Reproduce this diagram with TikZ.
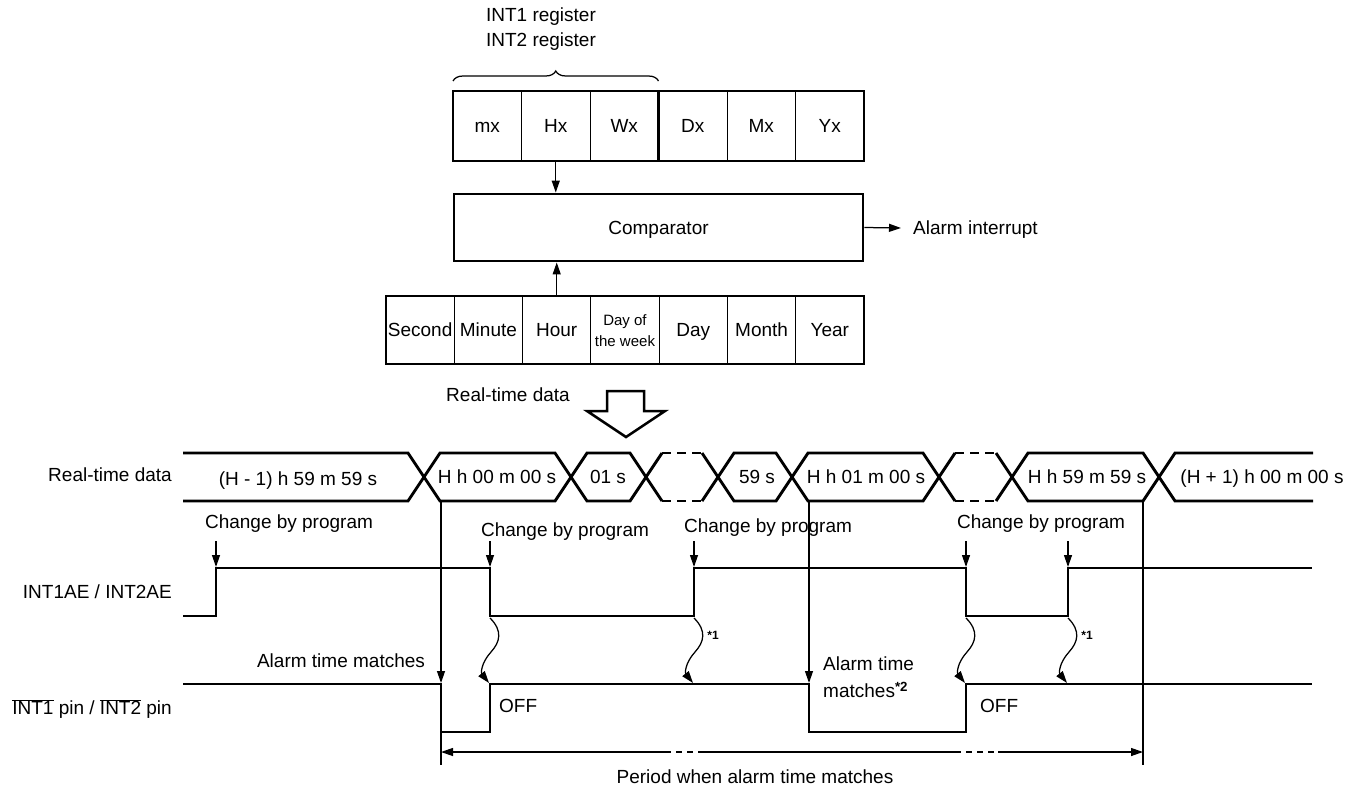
\documentclass[tikz,border=0pt]{standalone}
\usepackage{fontspec}
\setmainfont{Liberation Sans}
\usetikzlibrary{arrows.meta,decorations.pathreplacing}
\begin{document}
\begin{tikzpicture}[x=1pt,y=-1pt,
  thickl/.style={line width=2.9pt},
  thinl/.style={line width=1.25pt},
  tip/.style={-{Triangle[length=12pt,width=8pt]}},
  lbl/.style={font=\fontsize{19}{23}\selectfont, inner sep=0pt},
  one/.style={lbl, text height=13.7pt, text depth=0pt},
  small/.style={font=\fontsize{15}{21}\selectfont, inner sep=0pt, align=center},
  star/.style={font=\fontsize{12}{14}\selectfont\bfseries, inner sep=0pt},
  cellr/.style={one, minimum width=68.5pt, minimum height=70pt},
  cellt/.style={one, minimum width=68.286pt, minimum height=68pt},
  boxx/.style={draw, thickl, inner sep=0pt},
  sig/.style={thickl, line join=miter},
  busdash/.style={thickl, dash pattern=on 9pt off 6pt}
]
\useasboundingbox (0,0) rectangle (1361,787);

% ---------- register block ----------
\node[lbl, align=center, font=\fontsize{19}{25}\selectfont] (regtxt) at (541,29.5) {INT1 register\\INT2 register};
\draw[thinl, decorate, decoration={brace, amplitude=10pt}] (453,81) -- (658.5,81);
\foreach \t [count=\i] in {mx,Hx,Wx,Dx,Mx,Yx}
  \node[cellr] (r\i) at ({453+68.5*(\i-0.5)},126) {\t};
\foreach \i in {1,2,4,5}
  \draw[thinl] (r\i.north east) -- (r\i.south east);
\draw[thickl] (r3.north east) -- (r3.south east);
\node[boxx, minimum width=411pt, minimum height=70pt] (reg) at (658.5,126) {};

% ---------- comparator ----------
\node[boxx, one, draw, line width=2.9pt, minimum width=409pt, minimum height=67pt] (comp) at (658.5,227.5) {Comparator};
\draw[thinl, tip] (r2.south) -- (r2.south |- comp.north);
\node[one, anchor=west] (ai) at (913,228) {Alarm interrupt};
\draw[thinl, tip] (comp.east) -- ([xshift=-12pt]ai.west);

% ---------- real-time block ----------
\node[cellt] (t1) at ({386+68.286*0.5},330) {Second};
\node[cellt] (t2) at ({386+68.286*1.5},330) {Minute};
\node[cellt] (t3) at ({386+68.286*2.5},330) {Hour};
\node[small, minimum width=68.286pt, minimum height=68pt] (t4) at ({386+68.286*3.5},331) {Day of\\the week};
\node[cellt] (t5) at ({386+68.286*4.5},330) {Day};
\node[cellt] (t6) at ({386+68.286*5.5},330) {Month};
\node[cellt] (t7) at ({386+68.286*6.5},330) {Year};
\foreach \i in {1,...,6}
  \draw[thinl] ({386+68.286*\i},296) -- ({386+68.286*\i},364);
\node[boxx, minimum width=478pt, minimum height=68pt] (rt) at (625,330) {};
\draw[thinl, tip] (t3.north) -- (t3.north |- comp.south);

% hollow arrow
\node[one] (rtd) at (508,395) {Real-time data};
\draw[line width=2.5pt, line join=miter] (607,391) -- (644,391) -- (644,411) -- (665,411)
  -- (626,437) -- (587,411) -- (607,411) -- cycle;

% ---------- left labels ----------
\node[one, anchor=east] (l1) at (172,475) {Real-time data};
\node[one, anchor=east] (l2) at (172,592) {INT1AE / INT2AE};
\node[one, anchor=east] (l3) at (172,708) {$\overline{\mbox{INT1}}$ pin / $\overline{\mbox{INT2}}$ pin};

% ---------- data bus ----------
\def\T{453}\def\B{501}
\draw[sig] (183,\T) -- (408,\T) -- (440,\B) -- (555,\B) -- (587,\T) -- (630,\T) -- (662,\B);
\draw[sig] (183,\B) -- (408,\B) -- (440,\T) -- (555,\T) -- (587,\B) -- (630,\B) -- (662,\T);
\draw[busdash] (662,\T) -- (702,\T);
\draw[busdash] (662,\B) -- (702,\B);
\draw[sig] (702,\B) -- (734,\T) -- (776,\T) -- (808,\B) -- (923,\B) -- (955,\T);
\draw[sig] (702,\T) -- (734,\B) -- (776,\B) -- (808,\T) -- (923,\T) -- (955,\B);
\draw[busdash] (955,\T) -- (996,\T);
\draw[busdash] (955,\B) -- (996,\B);
\draw[sig] (996,\T) -- (1028,\B) -- (1143,\B) -- (1175,\T) -- (1313,\T);
\draw[sig] (996,\B) -- (1028,\T) -- (1143,\T) -- (1175,\B) -- (1313,\B);

\node[one] (d0) at (298,479) {(H - 1) h 59 m 59 s};
\node[one] (d1) at (497,477) {H h 00 m 00 s};
\node[one] (d2) at (608,477) {01 s};
\node[one] (d4) at (757,477) {59 s};
\node[one] (d5) at (866,477) {H h 01 m 00 s};
\node[one] (d7) at (1087,477) {H h 59 m 59 s};
\node[one] (d8) at (1262,477) {(H + 1) h 00 m 00 s};

% ---------- INT1AE ----------
\draw[sig] (183,616) -- (216,616) -- (216,568) -- (490,568) -- (490,616) -- (694,616) -- (694,568)
  -- (966,568) -- (966,616) -- (1068,616) -- (1068,568) -- (1312,568);

% ---------- INT pin ----------
\draw[sig] (183,684) -- (441,684) -- (441,732) -- (490,732) -- (490,684) -- (809,684) -- (809,732)
  -- (966,732) -- (966,684) -- (1312,684);

% change by program
\node[one] (c1) at (289,522) {Change by program};
\node[one] (c2) at (565,530) {Change by program};
\node[one] (c3) at (768,526) {Change by program};
\node[one] (c4) at (1041,522) {Change by program};
\foreach \x in {216,490,694,966,1068}
  \draw[thinl, tip] (\x,541) -- (\x,567);

% wavy arrows
\foreach \x in {490,694,966,1068}
  \draw[thinl, tip] (\x,618) .. controls ({\x+13},631) and ({\x+10},642) .. ({\x+1},652)
     .. controls ({\x-9},663) and ({\x-9},673) .. ({\x-1},683);
\node[star] (s1) at (713,635) {*1};
\node[star] (s2) at (1087,635) {*1};

% alarm match lines
\coordinate (m1) at (441,683);
\coordinate (m2) at (809,683);
\draw[thinl, tip] (441,501) -- (m1);
\draw[thinl] (m1) -- (441,765);
\draw[thinl, tip] (809,501) -- (m2);
\draw[thinl] (1143,501) -- (1143,765);

\node[one] (a1) at (341,661) {Alarm time matches};
\node[lbl, align=left, anchor=west, font=\fontsize{19}{27}\selectfont] (a2) at (823,677)
  {Alarm time\\matches\textsuperscript{\textbf{*2}}};
\node[one, anchor=west] (o1) at (499,706) {OFF};
\node[one, anchor=west] (o2) at (980,706) {OFF};

% period arrow
\coordinate (p0) at (441,752);
\coordinate (p1) at (1143,752);
\draw[thinl, {Triangle[length=12pt,width=8pt]}-] (p0) -- (665,752);
\draw[thinl, dash pattern=on 6pt off 5pt] (665,752) -- (703,752);
\draw[thinl] (703,752) -- (955,752);
\draw[thinl, dash pattern=on 6pt off 5pt] (955,752) -- (998,752);
\draw[thinl, tip] (998,752) -- (p1);
\node[one] (pt) at (755,777) {Period when alarm time matches};
\end{tikzpicture}
\end{document}
